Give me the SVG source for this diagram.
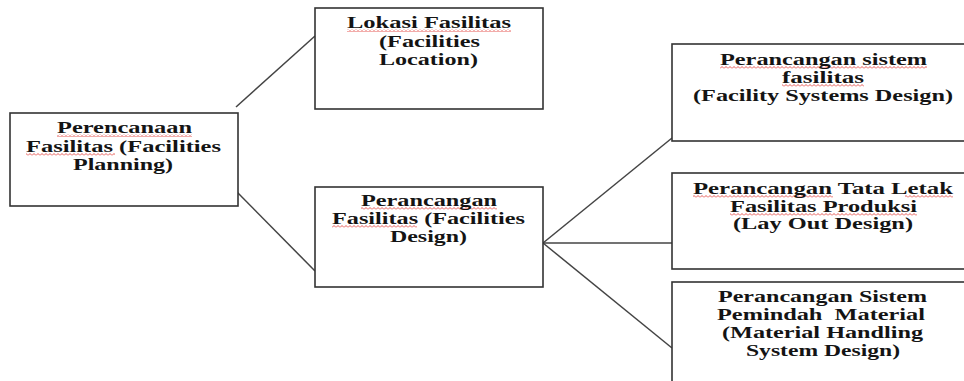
<svg xmlns="http://www.w3.org/2000/svg" width="964" height="381" viewBox="0 0 964 381">
  <defs>
    <style>
      .box { fill: #ffffff; stroke: #333333; stroke-width: 1.6; }
      .link { fill: none; stroke: #444444; stroke-width: 1.5; }
      .lbl { font-family: "Liberation Serif", "Times New Roman", serif; font-weight: bold; font-size: 16px; fill: #141414; text-anchor: middle; }
      .wave { fill: url(#squiggle); }
    </style>
    <!-- red wavy spell-check underline -->
    <pattern id="squiggle" patternUnits="userSpaceOnUse" width="4" height="3">
      <path d="M0 2.5 L2 0.5 L4 2.5" fill="none" stroke="#e0302a" stroke-width="0.8"/>
    </pattern>
  </defs>
  <rect width="964" height="381" fill="#ffffff"/>

  <g id="connectors">
    <line class="link" x1="236" y1="107" x2="315" y2="36"/>
    <line class="link" x1="237" y1="192" x2="315" y2="271"/>
    <line class="link" x1="543" y1="243" x2="672" y2="138"/>
    <line class="link" x1="543" y1="243" x2="672" y2="243"/>
    <line class="link" x1="543" y1="243" x2="672" y2="348"/>
  </g>

  <g id="facilities-planning">
    <rect class="box" x="10" y="113" width="228" height="93"/>
    <rect class="wave" x="57" y="134" width="135" height="3"/>
    <rect class="wave" x="26" y="153" width="89" height="3"/>
    <text class="lbl" x="124.5" y="133" textLength="135" lengthAdjust="spacingAndGlyphs">Perencanaan</text>
    <text class="lbl" x="123.5" y="152" textLength="195" lengthAdjust="spacingAndGlyphs">Fasilitas (Facilities</text>
    <text class="lbl" x="123" y="170" textLength="100" lengthAdjust="spacingAndGlyphs">Planning)</text>
  </g>

  <g id="facilities-location">
    <rect class="box" x="315" y="8" width="228" height="101"/>
    <rect class="wave" x="347" y="29" width="164" height="3"/>
    <text class="lbl" x="429" y="28" textLength="164" lengthAdjust="spacingAndGlyphs">Lokasi Fasilitas</text>
    <text class="lbl" x="429.5" y="47" textLength="101" lengthAdjust="spacingAndGlyphs">(Facilities</text>
    <text class="lbl" x="428.5" y="65" textLength="99" lengthAdjust="spacingAndGlyphs">Location)</text>
  </g>

  <g id="facilities-design">
    <rect class="box" x="315" y="187" width="228" height="100"/>
    <rect class="wave" x="361" y="207" width="136" height="3"/>
    <rect class="wave" x="332" y="225" width="85" height="3"/>
    <text class="lbl" x="429" y="206" textLength="136" lengthAdjust="spacingAndGlyphs">Perancangan</text>
    <text class="lbl" x="428.5" y="224" textLength="193" lengthAdjust="spacingAndGlyphs">Fasilitas (Facilities</text>
    <text class="lbl" x="428.5" y="242" textLength="77" lengthAdjust="spacingAndGlyphs">Design)</text>
  </g>

  <g id="facility-systems-design">
    <rect class="box" x="672" y="44" width="320" height="97"/>
    <rect class="wave" x="720" y="66" width="207" height="3"/>
    <rect class="wave" x="782" y="84" width="82" height="3"/>
    <text class="lbl" x="823.5" y="65" textLength="207" lengthAdjust="spacingAndGlyphs">Perancangan sistem</text>
    <text class="lbl" x="823" y="83" textLength="82" lengthAdjust="spacingAndGlyphs">fasilitas</text>
    <text class="lbl" x="823" y="101" textLength="260" lengthAdjust="spacingAndGlyphs">(Facility Systems Design)</text>
  </g>

  <g id="layout-design">
    <rect class="box" x="672" y="173" width="320" height="96"/>
    <rect class="wave" x="693" y="195" width="140" height="3"/>
    <rect class="wave" x="905" y="195" width="48" height="3"/>
    <rect class="wave" x="730" y="213" width="187" height="3"/>
    <text class="lbl" x="823" y="194" textLength="260" lengthAdjust="spacingAndGlyphs">Perancangan Tata Letak</text>
    <text class="lbl" x="823.5" y="212" textLength="187" lengthAdjust="spacingAndGlyphs">Fasilitas Produksi</text>
    <text class="lbl" x="823" y="229" textLength="180" lengthAdjust="spacingAndGlyphs">(Lay Out Design)</text>
  </g>

  <g id="material-handling-design">
    <rect class="box" x="672" y="282" width="320" height="120"/>
    <text class="lbl" x="822.5" y="302" textLength="209" lengthAdjust="spacingAndGlyphs">Perancangan Sistem</text>
    <text class="lbl" x="821" y="320" textLength="208" lengthAdjust="spacingAndGlyphs" style="white-space:pre">Pemindah  Material</text>
    <text class="lbl" x="822.5" y="338" textLength="201" lengthAdjust="spacingAndGlyphs">(Material Handling</text>
    <text class="lbl" x="823" y="356" textLength="154" lengthAdjust="spacingAndGlyphs">System Design)</text>
  </g>
</svg>
